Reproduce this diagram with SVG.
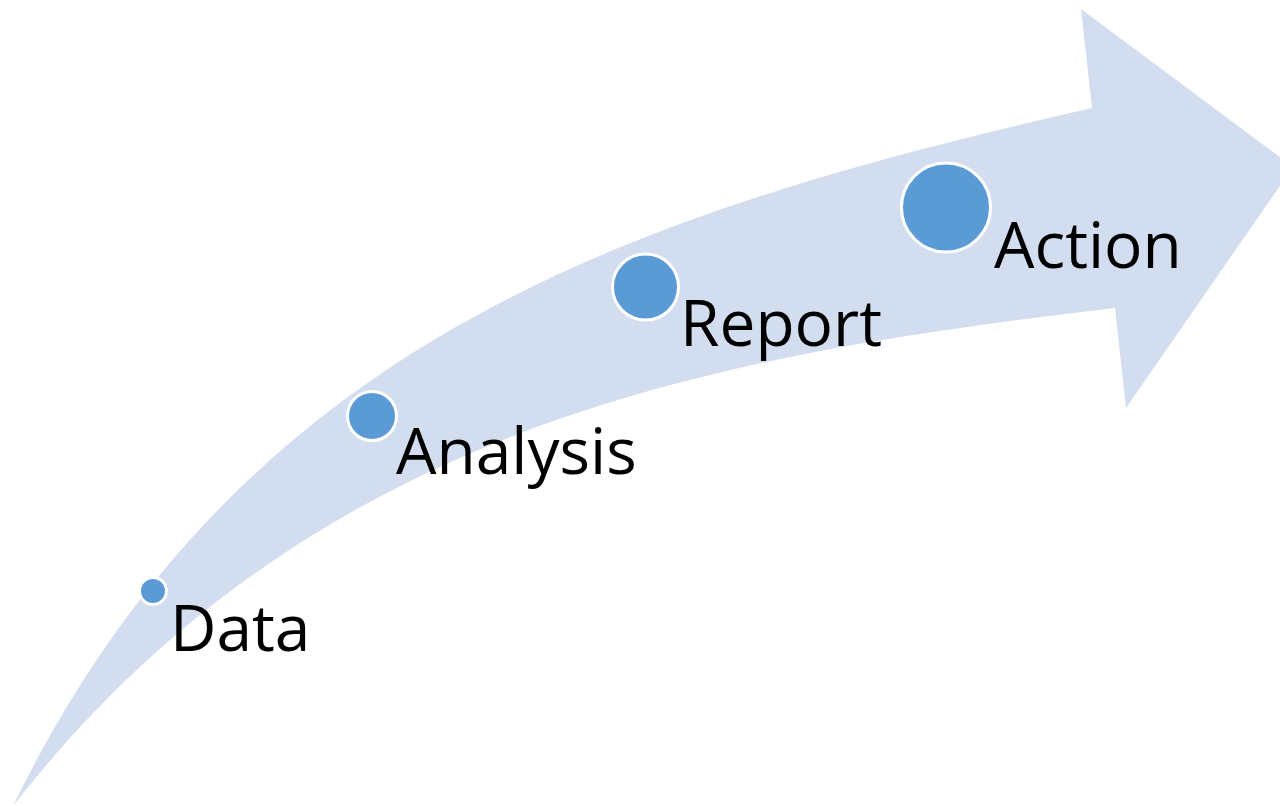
<svg xmlns="http://www.w3.org/2000/svg" width="1280" height="806" viewBox="0 0 1280 806">
  <style>
    .band { fill: #D2DEEF; }
    .dot { fill: #5B9BD5; stroke: #FFFFFF; stroke-width: 3; }
    .label { font-family: "Open Sans", "Liberation Sans", sans-serif; font-size: 64px; fill: #000000; }
  </style>
  <rect width="1280" height="806" fill="#FFFFFF"/>
  <!-- curved rising arrow -->
  <g id="connectors">
    <path class="band" d="M13,806 C243,334.5 642,211.5 1092,108 L1081,9 L1293,167 L1126,408 L1115,308 C715,355.6 313,422 13,806 Z"/>
  </g>
  <g id="node-data">
    <circle class="dot" cx="153" cy="591" r="13.5"/>
    <text class="label" x="170" y="651">Data</text>
  </g>
  <g id="node-analysis">
    <circle class="dot" cx="372" cy="416" r="24.5"/>
    <text class="label" x="396" y="474">Analysis</text>
  </g>
  <g id="node-report">
    <circle class="dot" cx="645.5" cy="287" r="33"/>
    <text class="label" x="680" y="346">Report</text>
  </g>
  <g id="node-action">
    <circle class="dot" cx="946" cy="207.5" r="44.5"/>
    <text class="label" x="994" y="268">Action</text>
  </g>
</svg>
